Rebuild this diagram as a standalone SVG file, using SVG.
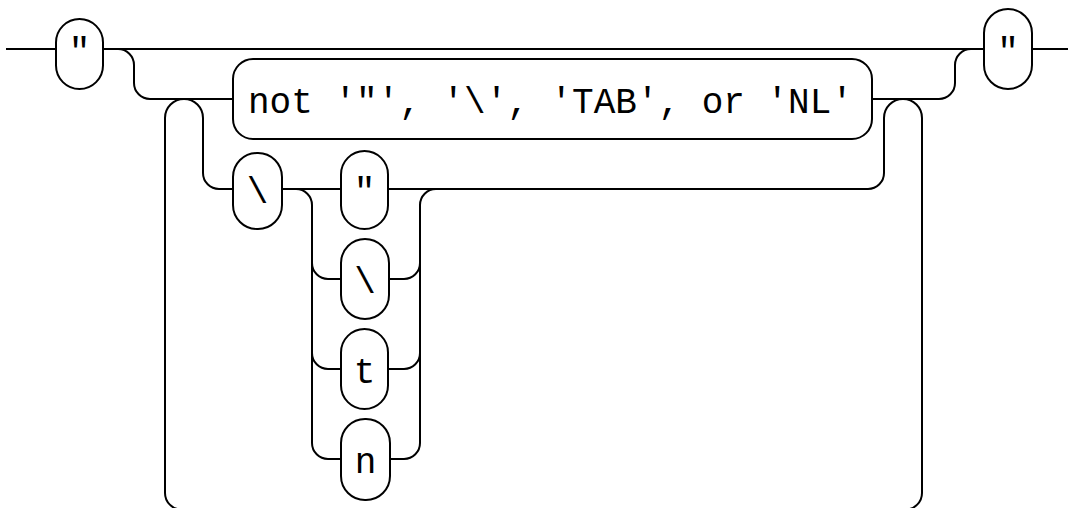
<svg xmlns="http://www.w3.org/2000/svg" width="1072" height="508" viewBox="0 0 1072 508">
<style>
.ln{fill:none;stroke:#000;stroke-width:2}
.nd{fill:#fff;stroke:#000;stroke-width:2}
.tx{font-family:"Liberation Mono","DejaVu Sans Mono",monospace;font-size:36px;fill:#000}
.c{text-anchor:middle}
</style>
<rect width="1072" height="508" fill="#fff"/>
<g id="connectors">
<path class="ln" d="M6,49 H1068"/>
<path class="ln" d="M118,49 A16,16 0 0 1 134,65 V83 A16,16 0 0 0 150,99 H872"/>
<path class="ln" d="M872,99 H939 A16,16 0 0 0 955,83 V65 A16,16 0 0 1 971,49"/>
<path class="ln" d="M181.5,509.5 A16.5,16.5 0 0 1 165,493 V118 A19,19 0 0 1 203,118 V173 A16,16 0 0 0 219,189 H868 A16,16 0 0 0 884,173 V118 A19,19 0 0 1 922,118 V493 A16.5,16.5 0 0 1 905.5,509.5 Z"/>
<path class="ln" d="M296,189 A16,16 0 0 1 312,205 V443 A16,16 0 0 0 328,459 H404 A16,16 0 0 0 420,443 V205 A16,16 0 0 1 436,189"/>
<path class="ln" d="M312,263 A16,16 0 0 0 328,279 H404 A16,16 0 0 0 420,263"/>
<path class="ln" d="M312,353 A16,16 0 0 0 328,369 H404 A16,16 0 0 0 420,353"/>
</g>
<g id="start_quote">
<rect class="nd" x="56" y="19" width="47" height="70" rx="23.5"/>
<text class="tx c" x="79.5" y="63">"</text>
</g>
<g id="end_quote">
<rect class="nd" x="984" y="9" width="48" height="80" rx="24"/>
<text class="tx c" x="1008" y="63">"</text>
</g>
<g id="not_chars">
<rect class="nd" x="233" y="59" width="639" height="80" rx="20"/>
<text class="tx" x="248" y="113" xml:space="preserve">not '"', '\', 'TAB', or 'NL'</text>
</g>
<g id="backslash">
<rect class="nd" x="233" y="153" width="49" height="76" rx="24"/>
<text class="tx c" x="257.5" y="203">\</text>
</g>
<g id="esc_quote">
<rect class="nd" x="341" y="151" width="47" height="78" rx="23.5"/>
<text class="tx c" x="364.5" y="203">"</text>
</g>
<g id="esc_backslash">
<rect class="nd" x="341" y="239" width="48" height="80" rx="24"/>
<text class="tx c" x="365" y="293">\</text>
</g>
<g id="esc_t">
<rect class="nd" x="341" y="329" width="47" height="80" rx="23.5"/>
<text class="tx c" x="364.5" y="383">t</text>
</g>
<g id="esc_n">
<rect class="nd" x="341" y="419" width="49" height="81" rx="24"/>
<text class="tx c" x="365.5" y="473">n</text>
</g>
</svg>
